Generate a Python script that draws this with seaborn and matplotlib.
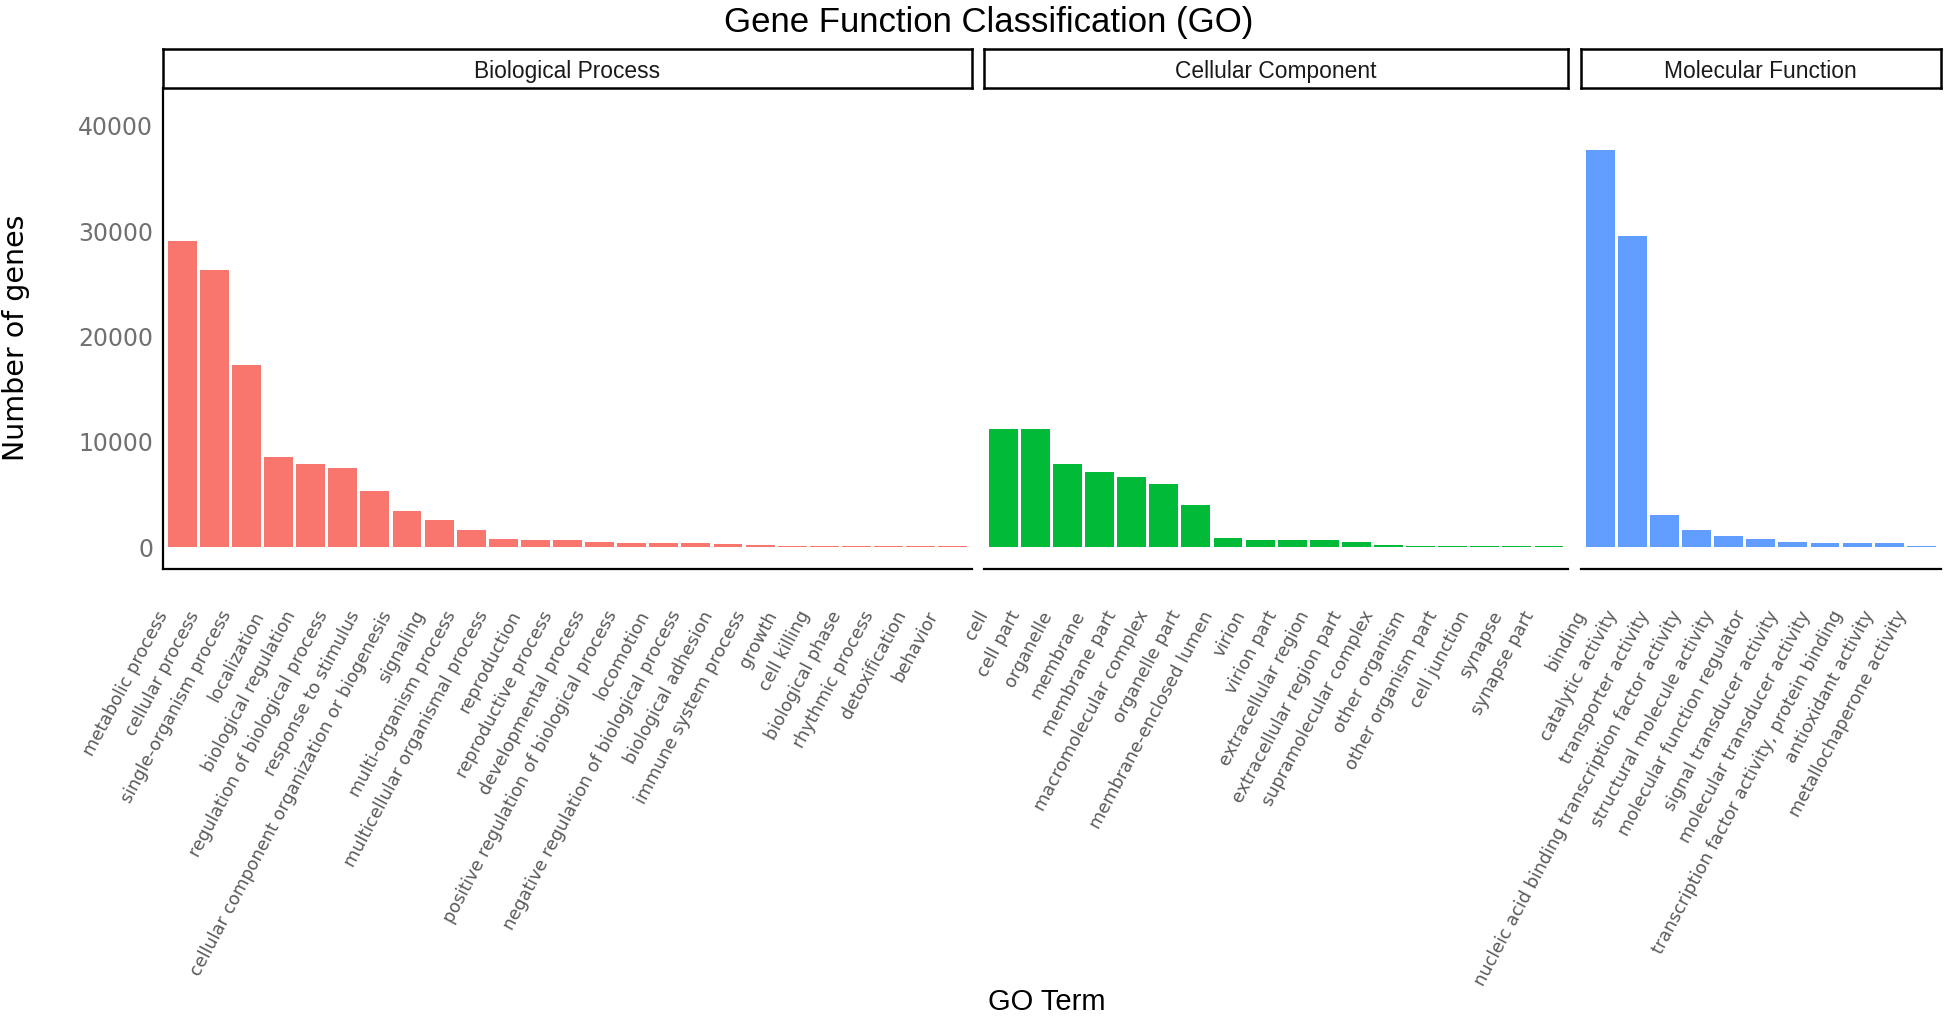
import pandas as pd
import seaborn as sns
import matplotlib.pyplot as plt
from matplotlib.transforms import ScaledTranslation

# GO terms and gene counts, one list per ontology
bp_terms = [
    "metabolic process", "cellular process", "single-organism process",
    "localization", "biological regulation", "regulation of biological process",
    "response to stimulus", "cellular component organization or biogenesis",
    "signaling", "multi-organism process", "multicellular organismal process",
    "reproduction", "reproductive process", "developmental process",
    "positive regulation of biological process", "locomotion",
    "negative regulation of biological process", "biological adhesion",
    "immune system process", "growth", "cell killing", "biological phase",
    "rhythmic process", "detoxification", "behavior",
]
bp_counts = [29120, 26330, 17260, 8520, 7940, 7540, 5300, 3480, 2610, 1630,
             800, 650, 650, 510, 370, 360, 360, 350, 250, 100, 100, 100, 100,
             100, 100]

cc_terms = [
    "cell", "cell part", "organelle", "membrane", "membrane part",
    "macromolecular complex", "organelle part", "membrane-enclosed lumen",
    "virion", "virion part", "extracellular region", "extracellular region part",
    "supramolecular complex", "other organism", "other organism part",
    "cell junction", "synapse", "synapse part",
]
cc_counts = [11200, 11200, 7870, 7140, 6710, 6020, 4000, 910, 650, 650, 650,
             510, 220, 100, 100, 100, 100, 100]

mf_terms = [
    "binding", "catalytic activity", "transporter activity",
    "nucleic acid binding transcription factor activity",
    "structural molecule activity", "molecular function regulator",
    "signal transducer activity", "molecular transducer activity",
    "transcription factor activity, protein binding", "antioxidant activity",
    "metallochaperone activity",
]
mf_counts = [37720, 29520, 3050, 1630, 1050, 800, 510, 370, 360, 360, 100]

panel_names = ["Biological Process", "Cellular Component", "Molecular Function"]
panel_colors = ["#F8766D", "#00BA38", "#619CFF"]
y_ticks = [0, 10000, 20000, 30000, 40000]

sns.set_style("white")
plt.rcParams["font.family"] = ["DejaVu Sans"]

W, H = 1946, 1036
fig = plt.figure(figsize=(W / 100, H / 100), dpi=100)

unit = 32.1                 # pixels per bar slot
lefts = [163, 984, 1581]
panel_top, panel_bottom, strip_top = 88, 569, 49

panels = [(bp_terms, bp_counts), (cc_terms, cc_counts), (mf_terms, mf_counts)]
for i, (terms, counts) in enumerate(panels):
    n = len(terms)
    w = (n + 0.2) * unit
    ax = fig.add_axes([lefts[i] / W, 1 - panel_bottom / H, w / W,
                       (panel_bottom - panel_top) / H])
    df = pd.DataFrame({"term": terms, "count": counts})
    sns.barplot(data=df, x="term", y="count", color=panel_colors[i],
                saturation=1, width=0.9, errorbar=None, linewidth=0, ax=ax)
    ax.set_xlim(-0.6, n - 0.4)
    ax.set_ylim(-2070, 43600)
    ax.set_xlabel("")
    ax.set_ylabel("")

    for side in ["top", "right"]:
        ax.spines[side].set_visible(False)
    ax.spines["bottom"].set_linewidth(1.6)
    ax.spines["bottom"].set_color("black")
    ax.spines["left"].set_linewidth(1.6)
    ax.spines["left"].set_color("black")

    ax.set_xticks(range(n))
    ax.set_xticklabels(terms, rotation=62, ha="right", va="center",
                       rotation_mode="anchor", fontsize=12.7, color="#5a5a5a")
    ax.tick_params(axis="x", length=3.6, width=1.2, color="black", pad=0)
    shift = ScaledTranslation(-0.19, -0.38, fig.dpi_scale_trans)
    for lab in ax.get_xticklabels():
        lab.set_transform(lab.get_transform() + shift)

    if i == 0:
        ax.set_yticks(y_ticks)
        ax.set_yticklabels([str(v) for v in y_ticks])
        ax.tick_params(axis="y", length=3.6, width=1.2, color="black",
                       labelsize=17, labelcolor="#707070", pad=3.5)
    else:
        ax.spines["left"].set_visible(False)
        ax.set_yticks([])

    # facet strip
    sx = fig.add_axes([lefts[i] / W, 1 - panel_top / H, w / W,
                       (panel_top - strip_top) / H])
    sx.set_xticks([])
    sx.set_yticks([])
    for sp in sx.spines.values():
        sp.set_visible(True)
        sp.set_linewidth(1.8)
        sp.set_color("black")
    sx.text(0.5, 0.42, panel_names[i], ha="center", va="center",
            fontsize=16.4, color="#1a1a1a", family=["Liberation Sans", "DejaVu Sans"],
            transform=sx.transAxes)

fig.text(989 / W, 1 - 32 / H, "Gene Function Classification (GO)",
         ha="center", va="baseline", fontsize=25, color="black",
         family=["Liberation Sans", "DejaVu Sans"])
fig.text(1047 / W, 1 - 1010 / H, "GO Term", ha="center", va="baseline",
         fontsize=21, color="black", family=["Liberation Sans", "DejaVu Sans"])
fig.text(16 / W, 1 - 338 / H, "Number of genes", rotation=90,
         ha="center", va="center", fontsize=20.5, color="black")

fig.savefig("out.png", dpi=100)
